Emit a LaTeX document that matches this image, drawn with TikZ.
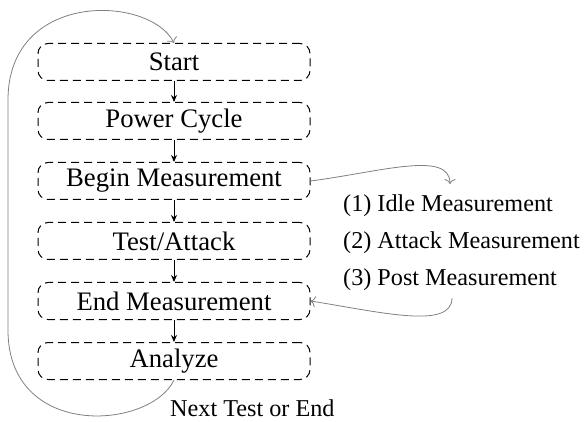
\documentclass[tikz,border=0pt]{standalone}
\usepackage{fontspec}
\setmainfont{Liberation Serif}
\usetikzlibrary{arrows.meta}
\begin{document}
\begin{tikzpicture}[x=1pt,y=-1pt,
  stagebox/.style={draw,line width=1pt,dash pattern=on 8pt off 5pt,rounded corners=10pt,
    minimum width=272pt,minimum height=37pt,inner sep=0pt,font=\fontsize{26.7}{32}\selectfont},
  flow/.style={line width=1pt,-{Stealth[length=7pt,width=6pt]}},
  loop/.style={draw=gray,line width=0.8pt,-{To[length=5pt,width=11pt]}},
  lbl/.style={inner sep=0pt,anchor=west,font=\fontsize{24.2}{29}\selectfont}]
\useasboundingbox (0,0) rectangle (584,422);
\node[stagebox] (start) at (174,62) {Start};
\node[stagebox] (power) at (174,121) {Power Cycle};
\node[stagebox] (begin) at (174,181) {Begin Measurement};
\node[stagebox] (test) at (174,241) {Test/Attack};
\node[stagebox] (endm) at (174,301) {End Measurement};
\node[stagebox] (analyze) at (174,361) {Analyze};
\draw[flow] (start) -- (power);
\draw[flow] (power) -- (begin);
\draw[flow] (begin) -- (test);
\draw[flow] (test) -- (endm);
\draw[flow] (endm) -- (analyze);
\node[lbl] (l1) at (343,206) {(1) Idle Measurement};
\node[lbl] (l2) at (343,243) {(2) Attack Measurement};
\node[lbl] (l3) at (343,280) {(3) Post Measurement};
\node[lbl] (next) at (170,408) {Next Test or End};
\coordinate (c1) at (450,184);
\coordinate (c2) at (452,298);
\draw[loop] (begin.east) .. controls (380,172) and (450,150) .. (c1);
\draw[loop] (c2) .. controls (452,330) and (380,312) .. (endm.east);
\coordinate (lb) at (8,330);
\coordinate (lt) at (8,100);
\draw[loop] (analyze.south) .. controls (150,430) and (8,440) .. (lb) -- (lt) .. controls (8,-10) and (150,-5) .. (start.north);
\end{tikzpicture}
\end{document}
